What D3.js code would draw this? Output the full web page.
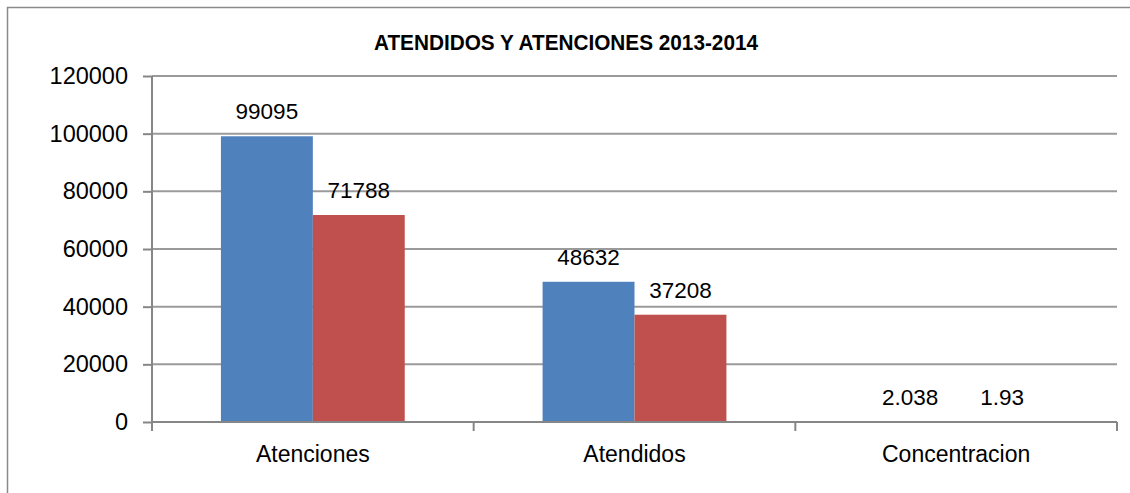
<!DOCTYPE html>
<html lang="es">
<head>
<meta charset="UTF-8">
<title>Atendidos y atenciones 2013-2014</title>
<script src="https://d3js.org/d3.v7.min.js"></script>
<style>
    body { margin: 0; background: #fff; overflow: hidden; }
    text { font-family: "Liberation Sans", Arial, sans-serif; fill: #000; }
    .grid line { stroke: #9a9a9a; stroke-width: 2px; }
    .axis line, .axis path { stroke: #868686; stroke-width: 2px; fill: none; }
</style>
</head>
<body>
<svg width="1130" height="493"></svg>
<script>
    const categories = ["Atenciones", "Atendidos", "Concentracion"];
    const seriesNames = ["2013", "2014"];
    const values2013 = [99095, 48632, 2.038];
    const values2014 = [71788, 37208, 1.93];
    const yTicks = [0, 20000, 40000, 60000, 80000, 100000, 120000];
    const colors = ["#4f81bd", "#c0504d"];

    const svg = d3.select("svg");

    // chart border (runs off the right and bottom edge)
    svg.append("rect")
        .attr("x", 7.5).attr("y", 7.5)
        .attr("width", 1140).attr("height", 500)
        .attr("fill", "none")
        .attr("stroke", "#8a8a8a")
        .attr("stroke-width", 1.5);

    const plotLeft = 152, plotRight = 1117, plotTop = 76, plotBottom = 422;

    const x = d3.scaleBand().domain(categories).range([plotLeft, plotRight]);
    const x1 = d3.scaleBand().domain(seriesNames)
        .range([0, x.bandwidth()])
        .paddingInner(0).paddingOuter(0.75);
    const y = d3.scaleLinear().domain([0, 120000]).range([plotBottom, plotTop]);

    // gridlines
    svg.append("g").attr("class", "grid")
        .selectAll("line")
        .data(yTicks.filter(d => d > 0))
        .enter().append("line")
        .attr("x1", plotLeft).attr("x2", plotRight)
        .attr("y1", d => y(d)).attr("y2", d => y(d));

    // y axis
    const yAxis = svg.append("g").attr("class", "axis")
        .attr("transform", `translate(${plotLeft},0)`)
        .call(d3.axisLeft(y).tickValues(yTicks).tickSize(9).tickPadding(15).tickFormat(d3.format("d")));
    yAxis.select(".domain").remove();
    yAxis.append("line").attr("y1", plotTop).attr("y2", plotBottom);
    yAxis.selectAll("text").attr("font-size", "23.5px").attr("font-family", null).attr("fill", "#000");

    // bars
    const data = categories.map((c, i) => ({ cat: c, vals: [values2013[i], values2014[i]] }));
    const groups = svg.append("g").selectAll("g")
        .data(data)
        .enter().append("g")
        .attr("transform", d => `translate(${x(d.cat)},0)`);

    groups.selectAll("rect")
        .data(d => d.vals.map((v, j) => ({ key: seriesNames[j], v: v, j: j })))
        .enter().append("rect")
        .attr("x", d => x1(d.key))
        .attr("width", x1.bandwidth())
        .attr("y", d => y(d.v))
        .attr("height", d => plotBottom - y(d.v))
        .attr("fill", d => colors[d.j]);

    groups.selectAll("text")
        .data(d => d.vals.map((v, j) => ({ key: seriesNames[j], v: v })))
        .enter().append("text")
        .attr("x", d => x1(d.key) + x1.bandwidth() / 2)
        .attr("y", d => y(d.v) - 17)
        .attr("text-anchor", "middle")
        .attr("font-size", "22.5px")
        .text(d => d.v);

    // x axis
    const xAxis = svg.append("g").attr("class", "axis");
    xAxis.append("line").attr("x1", plotLeft).attr("x2", plotRight).attr("y1", plotBottom).attr("y2", plotBottom);
    const bounds = categories.map(c => x(c)).concat([plotRight]);
    xAxis.selectAll(".tk").data(bounds).enter().append("line")
        .attr("x1", d => d).attr("x2", d => d)
        .attr("y1", plotBottom).attr("y2", plotBottom + 9);
    xAxis.selectAll(".lbl").data(categories).enter().append("text")
        .attr("x", d => x(d) + x.bandwidth() / 2)
        .attr("y", 462)
        .attr("text-anchor", "middle")
        .attr("font-size", "23px")
        .text(d => d);

    // title
    svg.append("text")
        .attr("x", 566).attr("y", 50)
        .attr("text-anchor", "middle")
        .attr("font-size", "22px")
        .attr("font-weight", "bold")
        .attr("textLength", 384)
        .attr("lengthAdjust", "spacingAndGlyphs")
        .text("ATENDIDOS Y ATENCIONES 2013-2014");
</script>
</body>
</html>
